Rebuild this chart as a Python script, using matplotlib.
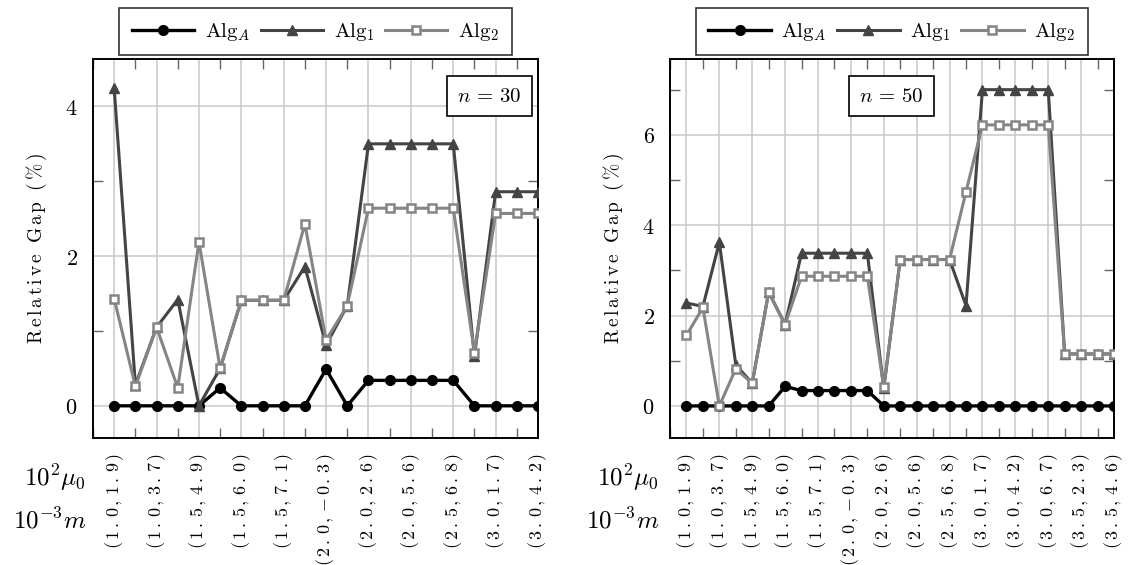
import matplotlib
matplotlib.use('Agg')
import matplotlib.pyplot as plt
from matplotlib.ticker import MultipleLocator

plt.rcParams['mathtext.fontset'] = 'cm'
plt.rcParams['font.family'] = 'DejaVu Serif'

# ---- data: n = 30 ----
labels_30 = ['(1.0,1.9)', '(1.0,3.7)', '(1.5,4.9)', '(1.5,6.0)', '(1.5,7.1)', '(2.0,-0.3)',
             '(2.0,2.6)', '(2.0,5.6)', '(2.5,6.8)', '(3.0,1.7)', '(3.0,4.2)']
alg_a_30 = [0, 0, 0, 0, 0, 0.24, 0, 0, 0, 0, 0.49, 0, 0.34, 0.34, 0.34, 0.34, 0.34, 0, 0, 0, 0]
alg_1_30 = [4.24, 0.28, 1.05, 1.42, 0, 0.50, 1.41, 1.41, 1.41, 1.86, 0.81, 1.34,
            3.50, 3.50, 3.50, 3.50, 3.50, 0.66, 2.86, 2.86, 2.86]
alg_2_30 = [1.43, 0.26, 1.05, 0.24, 2.19, 0.50, 1.41, 1.41, 1.41, 2.43, 0.88, 1.34,
            2.64, 2.64, 2.64, 2.64, 2.64, 0.71, 2.57, 2.57, 2.57]

# ---- data: n = 50 ----
labels_50 = ['(1.0,1.9)', '(1.0,3.7)', '(1.5,4.9)', '(1.5,6.0)', '(1.5,7.1)', '(2.0,-0.3)',
             '(2.0,2.6)', '(2.0,5.6)', '(2.5,6.8)', '(3.0,1.7)', '(3.0,4.2)', '(3.0,6.7)',
             '(3.5,2.3)', '(3.5,4.6)']
alg_a_50 = [0, 0, 0, 0, 0, 0, 0.43, 0.34, 0.34, 0.34, 0.34, 0.34,
            0, 0, 0, 0, 0, 0, 0, 0, 0, 0, 0, 0, 0, 0, 0]
alg_1_50 = [2.28, 2.20, 3.62, 0.91, 0.50, 2.52, 1.80, 3.38, 3.38, 3.38, 3.38, 3.38,
            0.39, 3.24, 3.24, 3.24, 3.24, 2.22, 7.0, 7.0, 7.0, 7.0, 7.0, 1.15, 1.15, 1.15, 1.15]
alg_2_50 = [1.56, 2.18, 0, 0.82, 0.50, 2.52, 1.80, 2.87, 2.87, 2.87, 2.87, 2.87,
            0.41, 3.24, 3.24, 3.24, 3.24, 4.74, 6.22, 6.22, 6.22, 6.22, 6.22, 1.15, 1.15, 1.15, 1.15]

ylabel = 'Relative Gap (%)'

fig = plt.figure(figsize=(11.31, 5.65), dpi=100)
ax1 = fig.add_axes([93 / 1131, 127 / 565, 445 / 1131, 379.5 / 565])
ax2 = fig.add_axes([670 / 1131, 127 / 565, 444 / 1131, 379.5 / 565])


def spaced(s):
    # letter-spaced roman text in mathtext
    parts = []
    for ch in s:
        if ch == ' ':
            parts.append(r'\ ')
        elif ch == '-':
            parts.append('{-}')
        elif ch == '%':
            parts.append(r'\%')
        else:
            parts.append(ch)
    return r'$\mathrm{' + r'\,'.join(parts) + '}$'


def draw(ax, labels, a, b, c, ylim, yticks, ntext, nx):
    x = list(range(len(a)))
    ax.plot(x, a, color='black', lw=2.4, marker='o', ms=7, label=r'$\mathrm{Alg}_A$', zorder=3)
    ax.plot(x, b, color='#444444', lw=2.2, marker='^', ms=7.5, label=r'$\mathrm{Alg}_1$', zorder=4)
    ax.plot(x, c, color='#858585', lw=2.2, marker='s', ms=6, mfc='white', mec='#858585',
            mew=1.8, label=r'$\mathrm{Alg}_2$', zorder=5)

    ax.set_xlim(-1, len(a) - 1)
    ax.set_ylim(*ylim)
    ax.set_xticks(x[::2])
    ax.set_xticklabels([spaced(s) for s in labels], rotation=90, fontsize=13, va='top')
    ax.xaxis.set_minor_locator(MultipleLocator(1))
    ax.set_yticks(yticks)
    ax.set_yticklabels(['$%d$' % v for v in yticks], fontsize=16)
    ax.yaxis.set_minor_locator(MultipleLocator(1))

    ax.grid(True, which='major', color='#c8c8c8', lw=1.1, zorder=0)
    ax.set_axisbelow(True)
    ax.tick_params(which='both', direction='in', top=True, right=True, color='#666666')
    ax.tick_params(which='major', length=0, pad=11)
    ax.tick_params(which='minor', length=7, width=1)
    for s in ax.spines.values():
        s.set_linewidth(1.4)

    ax.set_ylabel(spaced(ylabel), fontsize=14, labelpad=12)

    ax.text(nx, 0.901, ntext, transform=ax.transAxes, ha='center', va='center', fontsize=15,
            bbox=dict(boxstyle='square,pad=0.5', fc='white', ec='black', lw=1.2), zorder=6)

    leg = ax.legend(loc='lower center', bbox_to_anchor=(0.5, 1.008), borderaxespad=0, ncol=3,
                    fontsize=15, frameon=True, fancybox=False, edgecolor='black',
                    handlelength=3.0, columnspacing=0.5, handletextpad=0.5, borderpad=0.6)
    leg.get_frame().set_linewidth(1.2)


draw(ax1, labels_30, alg_a_30, alg_1_30, alg_2_30, (-0.43, 4.64), [0, 2, 4], r'$n\,=\,30$', 0.89)
draw(ax2, labels_50, alg_a_50, alg_1_50, alg_2_50, (-0.71, 7.69), [0, 2, 4, 6], r'$n\,=\,50$', 0.498)

for xr in (86 / 1131, 659 / 1131):
    fig.text(xr, 0.154, r'$10^2\mu_0$', ha='right', va='center', fontsize=18)
    fig.text(xr, 0.078, r'$10^{-3}m$', ha='right', va='center', fontsize=18)

fig.savefig('out.png', dpi=100)
